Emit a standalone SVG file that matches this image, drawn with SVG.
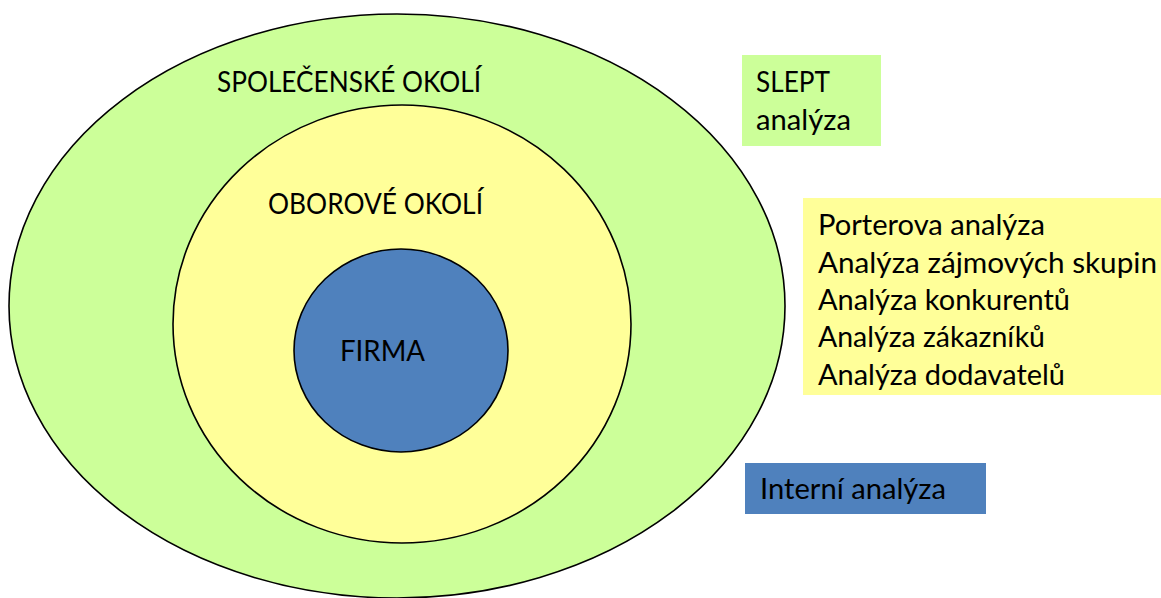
<svg xmlns="http://www.w3.org/2000/svg" width="1161" height="598" viewBox="0 0 1161 598">
<style>
.ring{stroke:#000;stroke-width:1.6}
.t{font-family:Lato,"Open Sans","Liberation Sans",sans-serif;font-size:28.5px;fill:#000}
.green{fill:#CCFF99}
.yellow{fill:#FFFF99}
.blue{fill:#4F81BD}
</style>
<rect width="1161" height="598" fill="#fff"/>
<g id="spolecenske-okoli">
<ellipse class="ring green" cx="397" cy="306" rx="388" ry="292"/>
<text class="t" x="217" y="92" textLength="264" lengthAdjust="spacingAndGlyphs">SPOLEČENSKÉ OKOLÍ</text>
</g>
<g id="oborove-okoli">
<ellipse class="ring yellow" cx="402" cy="324" rx="229" ry="219"/>
<text class="t" x="268" y="214" textLength="215" lengthAdjust="spacingAndGlyphs">OBOROVÉ OKOLÍ</text>
</g>
<g id="firma">
<ellipse class="ring blue" cx="401" cy="350.5" rx="107" ry="101.5"/>
<text class="t" x="340" y="361" textLength="85" lengthAdjust="spacingAndGlyphs">FIRMA</text>
</g>
<g id="slept">
<rect class="green" x="742" y="55" width="139" height="91"/>
<text class="t" x="756" y="92" textLength="74" lengthAdjust="spacingAndGlyphs">SLEPT</text>
<text class="t" x="756" y="130" textLength="95" lengthAdjust="spacingAndGlyphs">analýza</text>
</g>
<g id="oborove-analyzy">
<rect class="yellow" x="803" y="198" width="358" height="197"/>
<text class="t" x="818" y="235" textLength="227" lengthAdjust="spacingAndGlyphs">Porterova analýza</text>
<text class="t" x="818" y="273" textLength="339" lengthAdjust="spacingAndGlyphs">Analýza zájmových skupin</text>
<text class="t" x="818" y="310" textLength="252" lengthAdjust="spacingAndGlyphs">Analýza konkurentů</text>
<text class="t" x="818" y="347" textLength="227" lengthAdjust="spacingAndGlyphs">Analýza zákazníků</text>
<text class="t" x="818" y="385" textLength="247" lengthAdjust="spacingAndGlyphs">Analýza dodavatelů</text>
</g>
<g id="interni">
<rect class="blue" x="745" y="463" width="241" height="51"/>
<text class="t" x="760" y="499" textLength="186" lengthAdjust="spacingAndGlyphs">Interní analýza</text>
</g>
<g id="connectors"></g>
</svg>
